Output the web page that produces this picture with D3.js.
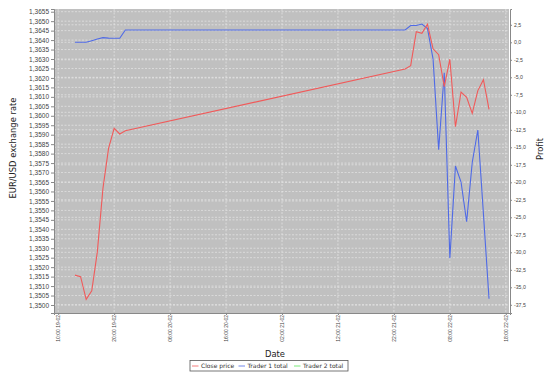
<!DOCTYPE html>
<html><head><meta charset="utf-8">
<script src="https://cdn.jsdelivr.net/npm/d3@7/dist/d3.min.js"></script>
<style>body{margin:0;background:#fff}svg{display:block;font-family:"DejaVu Sans",sans-serif}</style>
</head><body><svg id="c" width="550" height="378"></svg>
<script>
// ---- data ----
const times = ["2011-02-19 13:00","2011-02-19 14:00","2011-02-19 15:00","2011-02-19 16:00","2011-02-19 17:00",
  "2011-02-19 18:00","2011-02-19 19:00","2011-02-19 20:00","2011-02-19 21:00","2011-02-19 22:00",
  "2011-02-22 00:00","2011-02-22 01:00","2011-02-22 02:00","2011-02-22 03:00","2011-02-22 04:00",
  "2011-02-22 05:00","2011-02-22 06:00","2011-02-22 07:00","2011-02-22 08:00","2011-02-22 09:00",
  "2011-02-22 10:00","2011-02-22 11:00","2011-02-22 12:00","2011-02-22 13:00","2011-02-22 14:00","2011-02-22 15:00"];
const closePrice = [1.35158,1.35150,1.35030,1.35075,1.35282,1.35617,1.35828,1.35934,1.35904,1.35921,
  1.36247,1.36265,1.36444,1.36436,1.36484,1.36354,1.36323,1.36154,1.36299,1.35942,
  1.36125,1.36097,1.36013,1.36133,1.36191,1.36034];
const trader1Total = [0,0,0,0.23,0.47,0.66,0.60,0.57,0.57,1.76,
  1.76,2.40,2.40,2.61,1.97,-2.39,-15.33,-4.34,-30.86,-17.67,
  -19.96,-25.63,-17.17,-12.53,-24.50,-36.64];
const trader2Total = [];
const xTickTimes = ["2011-02-19 10:00","2011-02-19 20:00","2011-02-20 06:00","2011-02-20 16:00","2011-02-21 02:00",
  "2011-02-21 12:00","2011-02-21 22:00","2011-02-22 08:00","2011-02-22 18:00"];
const leftTicks = d3.range(0,32).map(i => +(1.35 + i*0.0005).toFixed(4));
const rightTicks = d3.range(0,17).map(i => -37.5 + i*2.5);
const legendItems = ["Close price","Trader 1 total","Trader 2 total"];
const colors = ["#f05a5a","#4f6ae6","#5ce65c"];

// ---- layout ----
const parse = d3.timeParse("%Y-%m-%d %H:%M");
const L = 54, R = 509, T = 9, B = 313;
const t0 = parse("2011-02-19 10:00");
const hr = 3600e3;
const x = d3.scaleTime().domain([new Date(+t0 - 0.75*hr), new Date(+t0 + 80.75*hr)]).range([L, R+1]);
const yL = d3.scaleLinear().domain([1.349577, 1.365643]).range([B, T]);
const yR = d3.scaleLinear().domain([-38.671, 4.757]).range([B, T]);
const loc = d3.formatLocale({decimal:",", thousands:".", grouping:[3], currency:["",""], minus:"-"});
const fL = loc.format(".4f"), fR = loc.format(".1f");
const fX = d3.timeFormat("%H:%M %d-%m");

const svg = d3.select("#c");
svg.append("rect").attr("x",L).attr("y",T).attr("width",R-L).attr("height",B-T).attr("fill","#c0c0c0");

const grid = svg.append("g").attr("stroke","#ececec").attr("stroke-width",0.6).attr("stroke-dasharray","2,1.5");
xTickTimes.map(parse).forEach(d => grid.append("line").attr("x1",x(d)).attr("x2",x(d)).attr("y1",T).attr("y2",B));
leftTicks.forEach(v => grid.append("line").attr("x1",L).attr("x2",R).attr("y1",yL(v)).attr("y2",yL(v)));
rightTicks.forEach(v => grid.append("line").attr("x1",L).attr("x2",R).attr("y1",yR(v)).attr("y2",yR(v)));

// axes
const axL = svg.append("g").attr("transform",`translate(${L},0)`)
  .call(d3.axisLeft(yL).tickValues(leftTicks).tickFormat(fL).tickSize(3).tickPadding(2));
axL.selectAll("text").attr("font-size",6.5).attr("fill","#444");
const axR = svg.append("g").attr("transform",`translate(${R+1},0)`)
  .call(d3.axisRight(yR).tickValues(rightTicks).tickFormat(fR).tickSize(2).tickPadding(2));
axR.selectAll("text").attr("font-size",5.2).attr("fill","#444");
const axB = svg.append("g").attr("transform",`translate(0,${B})`)
  .call(d3.axisBottom(x).tickValues(xTickTimes.map(parse)).tickFormat(fX).tickSize(2));
axB.selectAll("text").attr("font-size",5).attr("fill","#444")
  .attr("transform","translate(0,2) rotate(-90)").attr("text-anchor","end")
  .attr("x",0).attr("y",0).attr("dy","0.35em");
[axL,axR,axB].forEach(a => { a.selectAll("path").attr("stroke","#888"); a.selectAll("line").attr("stroke","#888"); });

// lines
const pts = times.map(parse);
const line = (ys, arr) => d3.line().x((d,i)=>x(pts[i])).y(d=>ys(d))(arr);
svg.append("path").attr("d", line(yR, trader1Total)).attr("fill","none").attr("stroke",colors[1]).attr("stroke-width",1.1);
if (trader2Total.length) svg.append("path").attr("d", line(yR, trader2Total)).attr("fill","none").attr("stroke",colors[2]).attr("stroke-width",1.1);
svg.append("path").attr("d", line(yL, closePrice)).attr("fill","none").attr("stroke",colors[0]).attr("stroke-width",1.1);

// titles
svg.append("text").attr("transform","translate(16,148) rotate(-90)").attr("text-anchor","middle")
  .attr("font-size",8.4).attr("fill","#222").text("EUR/USD exchange rate");
svg.append("text").attr("transform","translate(543,149) rotate(-90)").attr("text-anchor","middle")
  .attr("font-size",8.4).attr("fill","#222").text("Profit");
svg.append("text").attr("x",275).attr("y",357).attr("text-anchor","middle")
  .attr("font-size",8.4).attr("fill","#222").text("Date");

// legend
const lg = svg.append("g");
lg.append("rect").attr("x",190).attr("y",360.5).attr("width",158).attr("height",10.5).attr("fill","#fff").attr("stroke","#555").attr("stroke-width",0.8);
const lx = [192, 238.5, 294];
legendItems.forEach((s,i) => {
  lg.append("line").attr("x1",lx[i]).attr("x2",lx[i]+6.5).attr("y1",366).attr("y2",366).attr("stroke",colors[i]).attr("stroke-width",0.8);
  lg.append("text").attr("x",lx[i]+9).attr("y",368).attr("font-size",6).attr("fill","#333").text(s);
});
</script></body></html>
